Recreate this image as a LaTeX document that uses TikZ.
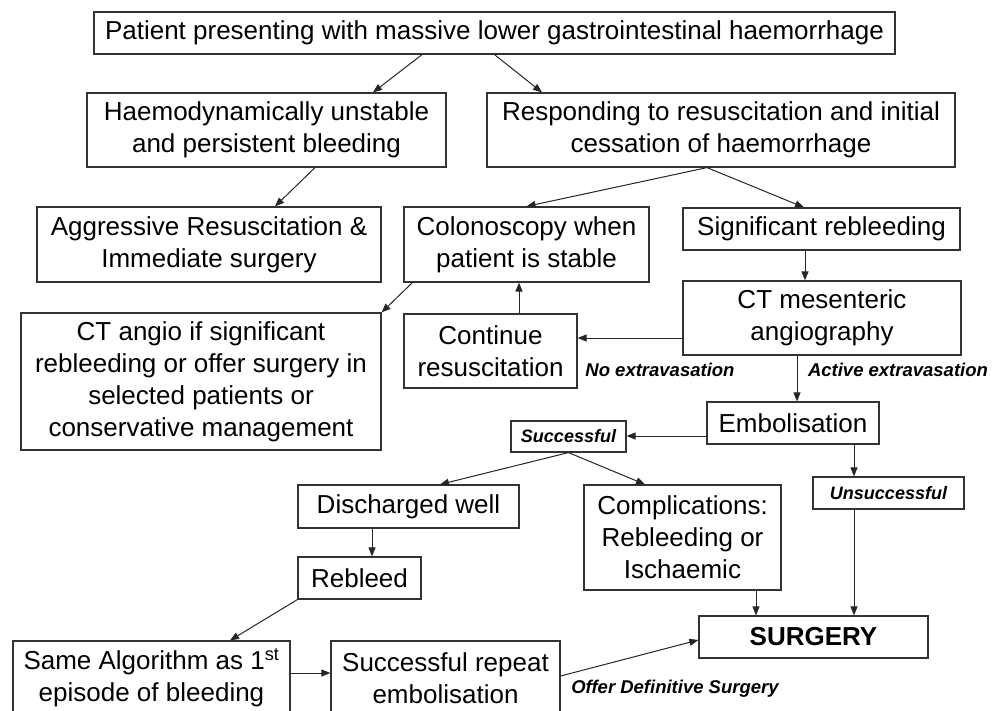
\documentclass[tikz,border=0pt]{standalone}
\usepackage{fontspec}
\setmainfont{Liberation Sans}
\usetikzlibrary{arrows.meta}

\begin{document}
\begin{tikzpicture}[x=1pt, y=-1pt,
    box/.style={draw=black!80, line width=1.2pt, inner sep=0pt, align=center, font=\fontsize{26}{32}\selectfont},
    tag/.style={box, font=\fontsize{18}{20}\selectfont\bfseries\itshape},
    lbl/.style={inner sep=0pt, font=\fontsize{18.5}{20}\selectfont\bfseries\itshape},
    conn/.style={black!85, line width=1pt, -{Triangle[length=9pt, width=7pt]}}]
    \useasboundingbox (0,0) rectangle (1002,710);

    \node[box, minimum width=801pt, minimum height=42pt] (pres) at (494.5,33) {Patient presenting with massive lower gastrointestinal haemorrhage};
    \node[box, minimum width=359pt, minimum height=74pt] (haemo) at (266.5,130) {Haemodynamically unstable\\and persistent bleeding};
    \node[box, minimum width=468pt, minimum height=74pt] (resp) at (721,130) {Responding to resuscitation and initial\\cessation of haemorrhage};
    \node[box, minimum width=344pt, minimum height=75pt] (aggr) at (209,244.5) {Aggressive Resuscitation \&\\Immediate surgery};
    \node[box, minimum width=245pt, minimum height=75pt] (colono) at (526.5,244.5) {Colonoscopy when\\patient is stable};
    \node[box, minimum width=277pt, minimum height=42pt] (sigreb) at (821.5,229) {Significant rebleeding};
    \node[box, minimum width=360pt, minimum height=137pt] (ctangio) at (201,381.5) {CT angio if significant\\rebleeding or offer surgery in\\selected patients or\\conservative management};
    \node[box, minimum width=173pt, minimum height=74pt] (contin) at (490.5,351) {Continue\\resuscitation};
    \node[box, minimum width=278pt, minimum height=74pt] (ctmes) at (822,318) {CT mesenteric\\angiography};
    \node[box, minimum width=172pt, minimum height=42pt] (embol) at (793,423) {Embolisation};
    \node[tag, minimum width=115pt, minimum height=31pt] (succ) at (568.5,436.5) {Successful};
    \node[tag, minimum width=151pt, minimum height=32pt] (unsucc) at (888.5,493) {Unsuccessful};
    \node[box, minimum width=221pt, minimum height=43pt] (disch) at (408.5,506.5) {Discharged well};
    \node[box, minimum width=197pt, minimum height=105pt] (compl) at (682.5,537.5) {Complications:\\Rebleeding or\\Ischaemic};
    \node[box, minimum width=123pt, minimum height=42pt] (rebleed) at (359.5,578) {Rebleed};
    \node[box, minimum width=277pt, minimum height=74pt] (same) at (151.5,678) {Same Algorithm as 1\textsuperscript{st}\\episode of bleeding};
    \node[box, minimum width=229pt, minimum height=74pt] (rptemb) at (445.5,678) {Successful repeat\\embolisation};
    \node[box, minimum width=229pt, minimum height=42pt] (surg) at (813.5,637) {\textbf{SURGERY}};

    \node[lbl] (noext) at (660,370) {No extravasation};
    \node[lbl] (actext) at (898,370) {Active extravasation};
    \node[lbl] (offer) at (675,689) {Offer Definitive Surgery};

    \draw[conn] ([xshift=-72.5pt]pres.south) -- ([xshift=106.5pt]haemo.north);
    \draw[conn] (pres.south) -- ([xshift=-179pt]resp.north);
    \draw[conn] ([xshift=48.5pt]haemo.south) -- ([xshift=66pt]aggr.north);
    \draw[conn] ([xshift=-14pt]resp.south) -- (colono.north);
    \draw[conn] ([xshift=-14pt]resp.south) -- ([xshift=-17.5pt]sigreb.north);
    \draw[conn] ([xshift=9pt]colono.south west) -- (ctangio.north east);
    \draw[conn] ([xshift=28.5pt]contin.north) -- ([xshift=28.5pt]contin.north |- colono.south);
    \draw[conn] ([xshift=-16.5pt]sigreb.south) -- ([xshift=-16.5pt]sigreb.south |- ctmes.north);
    \draw[conn] ([yshift=-20pt]ctmes.west) -- ([yshift=-20pt]ctmes.west -| contin.east);
    \draw[conn] ([xshift=-25pt]ctmes.south) -- ([xshift=-25pt]ctmes.south |- embol.north);
    \draw[conn] ([yshift=-13pt]embol.west) -- ([yshift=-13pt]embol.west -| succ.east);
    \draw[conn] ([xshift=61pt]embol.south) -- ([xshift=61pt]embol.south |- unsucc.north);
    \draw[conn] (succ.south) -- ([xshift=31.5pt]disch.north);
    \draw[conn] (succ.south) -- ([xshift=-37.5pt]compl.north);
    \draw[conn] ([xshift=-36.5pt]disch.south) -- ([xshift=-36.5pt]disch.south |- rebleed.north);
    \draw[conn] (rebleed.south west) -- ([xshift=78.5pt]same.north);
    \draw[conn] ([yshift=5pt]same.east) -- ([yshift=5pt]same.east -| rptemb.west);
    \draw[conn] ([xshift=73.5pt]compl.south) -- ([xshift=73.5pt]compl.south |- surg.north);
    \draw[conn] ([xshift=-34.5pt]unsucc.south) -- ([xshift=-34.5pt]unsucc.south |- surg.north);
    \draw[conn] ([yshift=2pt]rptemb.east) -- ([yshift=-3pt]surg.west);
\end{tikzpicture}
\end{document}
